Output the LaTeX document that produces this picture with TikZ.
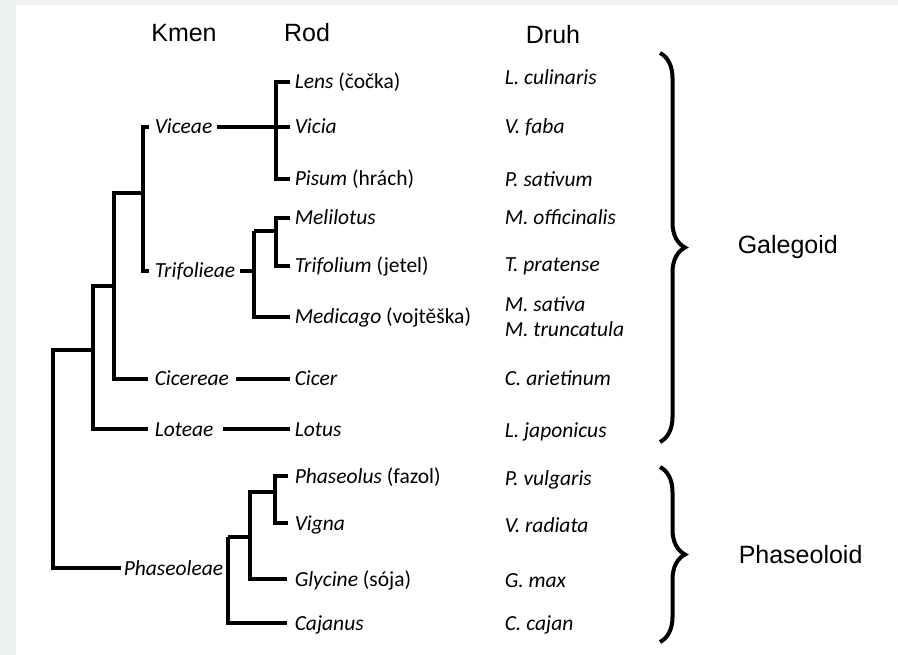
\documentclass[tikz,border=0pt]{standalone}
\usepackage{fontspec}
\setmainfont{Carlito}
\newfontfamily\hdrfont{Liberation Sans}
\usetikzlibrary{decorations.pathreplacing}
\definecolor{bgc}{HTML}{EEF2EE}
\begin{document}
\begin{tikzpicture}[x=1pt,y=-1pt,line width=3.5pt,
  tx/.style={anchor=west,inner sep=0pt,text height=14pt,text depth=0pt,font=\fontsize{21.5}{24}\selectfont},
  hdr/.style={inner sep=0pt,font=\hdrfont\fontsize{25}{28}\selectfont},
  bracestyle/.style={decorate,decoration={brace,amplitude=25pt},line width=4pt}]
\useasboundingbox (0,0) rectangle (898,655);
\fill[bgc] (0,0) rectangle (898,655);
\fill[white] (16,5) rectangle (898,655);

% headers
\node[hdr] (kmen) at (184,33) {Kmen};
\node[hdr] (rod) at (307,33) {Rod};
\node[hdr] (druh) at (553,35) {Druh};

% tribes
\node[tx] (viceae) at (153,127) {\textit{Viceae}};
\node[tx] (trifolieae) at (153,271) {\textit{Trifolieae}};
\node[tx] (cicereae) at (153,379) {\textit{Cicereae}};
\node[tx] (loteae) at (153,429) {\textit{Loteae}};
\node[tx] (phaseoleae) at (122,568) {\textit{Phaseoleae}};

% genera
\node[tx] (lens) at (293,82) {\textit{Lens} (čočka)};
\node[tx] (vicia) at (293,127) {\textit{Vicia}};
\node[tx] (pisum) at (293,179) {\textit{Pisum} (hrách)};
\node[tx] (melilotus) at (293,218) {\textit{Melilotus}};
\node[tx] (trifolium) at (293,266) {\textit{Trifolium} (jetel)};
\node[tx] (medicago) at (293,317) {\textit{Medicago} (vojtěška)};
\node[tx] (cicer) at (293,379) {\textit{Cicer}};
\node[tx] (lotus) at (293,429) {\textit{Lotus}};
\node[tx] (phaseolus) at (293,476) {\textit{Phaseolus} (fazol)};
\node[tx] (vigna) at (293,523) {\textit{Vigna}};
\node[tx] (glycine) at (293,579) {\textit{Glycine} (sója)};
\node[tx] (cajanus) at (293,623) {\textit{Cajanus}};

% species
\node[tx] (s1) at (503,78) {\textit{L. culinaris}};
\node[tx] (s2) at (503,127) {\textit{V. faba}};
\node[tx] (s3) at (503,180) {\textit{P. sativum}};
\node[tx] (s4) at (503,218) {\textit{M. officinalis}};
\node[tx] (s5) at (503,265) {\textit{T. pratense}};
\node[tx] (s6) at (503,305) {\textit{M. sativa}};
\node[tx] (s7) at (503,330) {\textit{M. truncatula}};
\node[tx] (s8) at (503,378) {\textit{C. arietinum}};
\node[tx] (s9) at (503,430) {\textit{L. japonicus}};
\node[tx] (s10) at (503,478) {\textit{P. vulgaris}};
\node[tx] (s11) at (503,525) {\textit{V. radiata}};
\node[tx] (s12) at (503,580) {\textit{G. max}};
\node[tx] (s13) at (503,623) {\textit{C. cajan}};

% groups
\node[hdr,anchor=west] (galegoid) at (736,247) {Galegoid};
\node[hdr,anchor=west] (phaseoloid) at (737,555) {Phaseoloid};
\coordinate (gtop) at (660,53);
\coordinate (gbot) at (660,442);
\coordinate (ptop) at (660,467);
\coordinate (pbot) at (660,642);
\draw[bracestyle] (gtop) -- (gbot);
\draw[bracestyle] (ptop) -- (pbot);

% junction coordinates
\coordinate (kV) at (143,193);
\coordinate (n1) at (114,286);
\coordinate (n2) at (93,350);
\coordinate (root) at (53,568);
\coordinate (tj) at (254,231);
\coordinate (mj) at (276,231);
\coordinate (pa) at (228,537);
\coordinate (pd) at (250,537);
\coordinate (pe) at (228,568);
\coordinate (pb) at (250,492);
\coordinate (pc) at (275,492);

% Viceae genera
\draw ([xshift=3]viceae.east) -- ([xshift=-3]vicia.west);
\draw ([xshift=-3]lens.west) -| ([xshift=-17]pisum.west) -- ([xshift=-3]pisum.west);

% tribes backbone
\draw ([xshift=-4]viceae.west) -| (kV) |- ([xshift=-4]trifolieae.west);
\draw (kV) -| (n1) |- ([xshift=-5]cicereae.west);
\draw (n1) -| (n2) |- ([xshift=-5]loteae.west);
\draw (n2) -| (root) -- ([xshift=-1]phaseoleae.west);

% Trifolieae genera
\draw ([xshift=3]trifolieae.east) -| (tj);
\draw (tj) |- ([xshift=-3]medicago.west);
\draw (tj) -- (mj);
\draw ([xshift=-3]melilotus.west) -| ([xshift=-17]trifolium.west) -- ([xshift=-3]trifolium.west);

% Cicer, Lotus
\draw ([xshift=5]cicereae.east) -- ([xshift=-3]cicer.west);
\draw ([xshift=8]loteae.east) -- ([xshift=-3]lotus.west);

% Phaseoleae genera
\draw ([xshift=2]phaseoleae.east) -- (pe);
\draw (pa) |- ([xshift=-6]cajanus.west);
\draw (pa) -- (pd);
\draw (pc) -- (pb) |- ([xshift=-6]glycine.west);
\draw ([xshift=-5]phaseolus.west) -| ([xshift=-18]vigna.west) -- ([xshift=-5]vigna.west);
\end{tikzpicture}
\end{document}
